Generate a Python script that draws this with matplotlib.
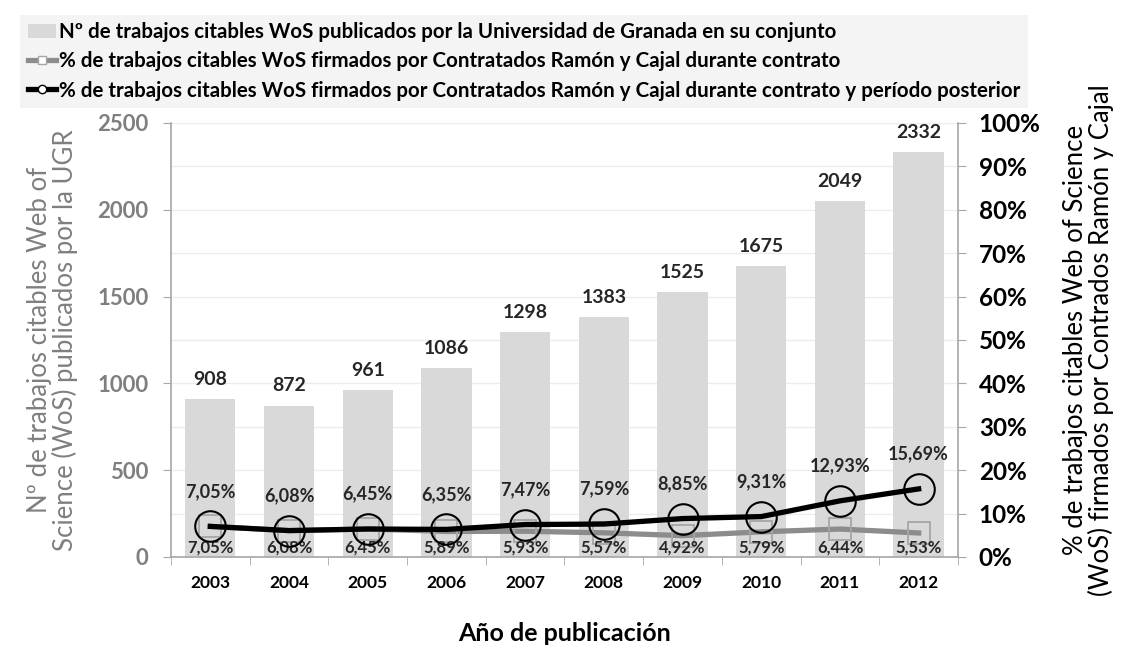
import numpy as np
import matplotlib.pyplot as plt
from matplotlib.patches import Patch
from matplotlib.lines import Line2D
from matplotlib.ticker import MultipleLocator, FuncFormatter

plt.rcParams['font.family'] = ['Lato', 'DejaVu Sans']

years = ['2003', '2004', '2005', '2006', '2007', '2008', '2009', '2010', '2011', '2012']
total_ugr = [908, 872, 961, 1086, 1298, 1383, 1525, 1675, 2049, 2332]
pct_contrato = [7.05, 6.08, 6.45, 5.89, 5.93, 5.57, 4.92, 5.79, 6.44, 5.53]
pct_posterior = [7.05, 6.08, 6.45, 6.35, 7.47, 7.59, 8.85, 9.31, 12.93, 15.69]

bar_col = '#d9d9d9'
gray_line = '#8c8c8c'
axis_col = '#a6a6a6'

fig = plt.figure(figsize=(11.21, 6.5), dpi=100)
ax = fig.add_axes([0.1525, 0.1431, 0.7021, 0.6677])
ax2 = ax.twinx()

x = np.arange(len(years))
ax.bar(x, total_ugr, width=0.64, color=bar_col, zorder=2)
for xi, v in zip(x, total_ugr):
    ax.annotate(str(v), (xi, v), xytext=(0, 8), textcoords='offset points',
                ha='center', va='bottom', fontsize=14, fontweight='bold', color='#262626')

ax.set_xlim(-0.5, len(years) - 0.5)
ax.set_ylim(0, 2500)
ax.yaxis.set_major_locator(MultipleLocator(500))
ax.yaxis.set_minor_locator(MultipleLocator(250))
ax.grid(axis='y', which='both', color='#ececec', lw=1, zorder=0)
ax.set_axisbelow(True)
ax.set_xticks(x)
ax.set_xticklabels(years, fontsize=12.5, fontweight='bold')
ax.set_xticks(np.arange(-0.5, len(years)), minor=True)
ax.tick_params(axis='x', which='major', length=0, pad=13)
ax.tick_params(axis='x', which='minor', length=6, color=axis_col, direction='out')
ax.tick_params(axis='y', which='major', length=6, color=axis_col, labelsize=16,
               labelcolor='#7f7f7f', pad=10)
ax.tick_params(axis='y', which='minor', length=0)
for lab in ax.get_yticklabels():
    lab.set_fontweight('bold')
for s in ['top', 'right']:
    ax.spines[s].set_visible(False)
for s in ['left', 'bottom']:
    ax.spines[s].set_color(axis_col)
    ax.spines[s].set_linewidth(1.2)

ax.set_ylabel('Nº de trabajos citables Web of\nScience (WoS) publicados por la UGR',
              fontsize=18.5, color='#7f7f7f', labelpad=14, linespacing=1.0)
ax.set_xlabel('Año de publicación', fontsize=18, fontweight='bold', labelpad=22)

ax2.plot(x, pct_contrato, color=gray_line, lw=3.8, marker='s', ms=16,
         mfc='none', mec=axis_col, mew=1.3, zorder=3)
ax2.plot(x, pct_posterior, color='black', lw=3.8, marker='o', ms=22,
         mfc='none', mec='black', mew=1.5, zorder=4)
for xi, v in zip(x, pct_posterior):
    ax2.annotate(f'{v:.2f}%'.replace('.', ','), (xi, v), xytext=(0, 19),
                 textcoords='offset points', ha='center', va='bottom',
                 fontsize=13, fontweight='bold', color='#262626')
for xi, v in zip(x, pct_contrato):
    ax2.annotate(f'{v:.2f}%'.replace('.', ','), (xi, 0), xytext=(0, 1),
                 textcoords='offset points', ha='center', va='bottom',
                 fontsize=12, fontweight='bold', color='#262626')

ax2.set_ylim(0, 100)
ax2.yaxis.set_major_locator(MultipleLocator(10))
ax2.yaxis.set_major_formatter(FuncFormatter(lambda v, p: f'{v:.0f}%'))
ax2.tick_params(axis='y', length=6, color=axis_col, labelsize=17.5, pad=9)
for lab in ax2.get_yticklabels():
    lab.set_fontweight('bold')
for s in ['top', 'left', 'bottom']:
    ax2.spines[s].set_visible(False)
ax2.spines['right'].set_color(axis_col)
ax2.spines['right'].set_linewidth(1.2)
ax2.set_ylabel('% de trabajos citables Web of Science\n(WoS) firmados por Contrados Ramón y Cajal',
               fontsize=18.5, labelpad=16, linespacing=1.0)

handles = [
    Patch(facecolor=bar_col, edgecolor='none'),
    Line2D([], [], color=gray_line, lw=3.8, marker='s', ms=6, mfc='white', mec=axis_col),
    Line2D([], [], color='black', lw=3.8, marker='o', ms=6, mfc='white', mec='black'),
]
labels = [
    'Nº de trabajos citables WoS publicados por la Universidad de Granada en su conjunto',
    '% de trabajos citables WoS firmados por Contratados Ramón y Cajal durante contrato',
    '% de trabajos citables WoS firmados por Contratados Ramón y Cajal durante contrato y período posterior',
]
leg = fig.legend(handles, labels, loc='upper left', bbox_to_anchor=(0.009, 0.993),
                 frameon=True, facecolor='#f2f2f2', edgecolor='none', fancybox=False,
                 handlelength=1.4, handletextpad=0.15, labelspacing=0.45,
                 borderpad=0.35, prop={'weight': 'bold', 'size': 14.8})

fig.savefig('out.png', dpi=100)
